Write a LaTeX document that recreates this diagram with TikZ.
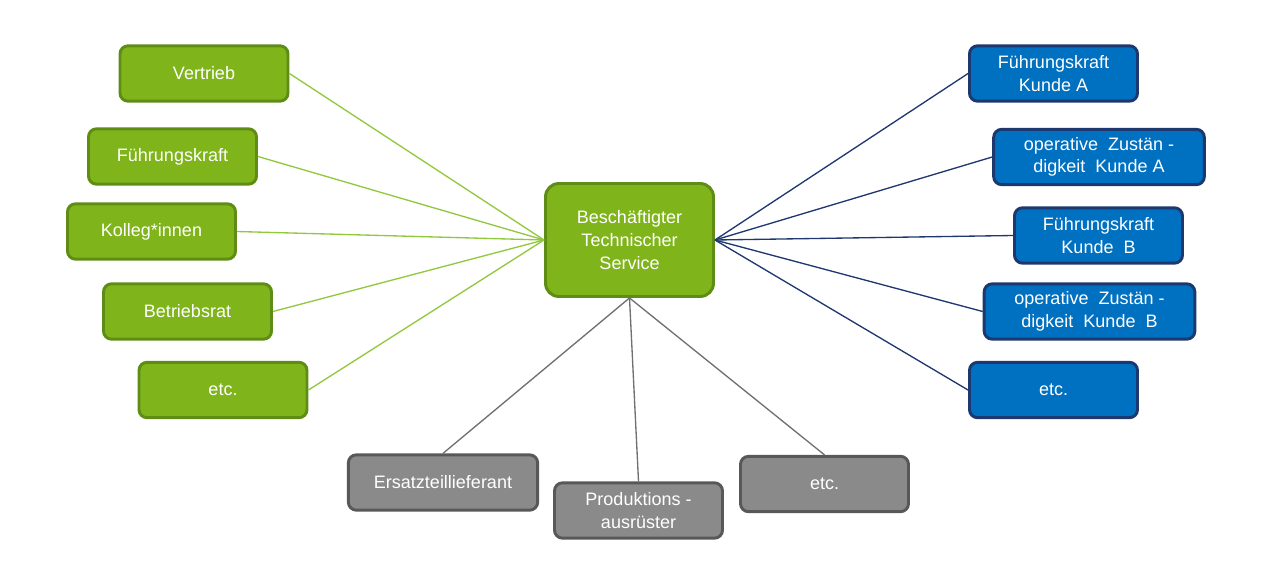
\documentclass[tikz,border=0pt]{standalone}
\usepackage{fontspec}
\setmainfont{Liberation Sans}
\definecolor{gruen}{RGB}{127,181,27}
\definecolor{gruenrand}{RGB}{94,140,20}
\definecolor{gruenlinie}{RGB}{146,200,62}
\definecolor{blau}{RGB}{0,112,192}
\definecolor{blaurand}{RGB}{28,56,110}
\definecolor{blaulinie}{RGB}{31,56,112}
\definecolor{grau}{RGB}{138,138,138}
\definecolor{graurand}{RGB}{88,88,88}
\definecolor{graulinie}{RGB}{112,112,112}

\begin{document}
\begin{tikzpicture}[x=0.75pt,y=-0.75pt,
    box/.style={rectangle,rounded corners=6pt,line width=2.2pt,text=white,align=center,
        minimum width=126pt,minimum height=41.5pt,inner sep=2pt,font=\fontsize{13.5}{17}\selectfont},
    gbox/.style={box,fill=gruen,draw=gruenrand},
    bbox/.style={box,fill=blau,draw=blaurand},
    hbox/.style={box,fill=grau,draw=graurand}]
    \useasboundingbox (0,0) rectangle (1273,564);
    % Mitte
    \node[gbox,minimum height=84.75pt,rounded corners=10pt] (ts) at (629.5,240) {Beschäftigter\\Technischer\\Service};
    % links
    \node[gbox] (vertrieb) at (204,73.5) {Vertrieb};
    \node[gbox] (fk) at (172.5,156.5) {Führungskraft};
    \node[gbox] (kollegen) at (151.5,231.5) {Kolleg*innen};
    \node[gbox] (br) at (187.5,311.5) {Betriebsrat};
    \node[gbox] (etcl) at (223,390) {etc.};
    % rechts
    \node[bbox] (fka) at (1053.5,73.5) {Führungskraft\\Kunde A};
    \node[bbox,minimum width=158pt] (opa) at (1099,157) {operative~ Zustän -\\digkeit~ Kunde A};
    \node[bbox] (fkb) at (1098.5,235.5) {Führungskraft\\Kunde~ B};
    \node[bbox,minimum width=158pt] (opb) at (1089.5,311.5) {operative~ Zustän -\\digkeit~ Kunde~ B};
    \node[bbox] (etcr) at (1053.5,390) {etc.};
    % unten
    \node[hbox,minimum width=142pt] (ersatz) at (443,482.5) {Ersatzteillieferant};
    \node[hbox] (prod) at (638.5,510.5) {Produktions -\\ausrüster};
    \node[hbox] (etcu) at (824.5,484) {etc.};
    % Linien
    \foreach \n in {vertrieb,fk,kollegen,br,etcl}
        \draw[gruenlinie,line width=1pt] (ts.west) -- (\n.east);
    \foreach \n in {fka,opa,fkb,opb,etcr}
        \draw[blaulinie,line width=1pt] (ts.east) -- (\n.west);
    \foreach \n in {ersatz,prod,etcu}
        \draw[graulinie,line width=1pt] (ts.south) -- (\n.north);
\end{tikzpicture}
\end{document}
